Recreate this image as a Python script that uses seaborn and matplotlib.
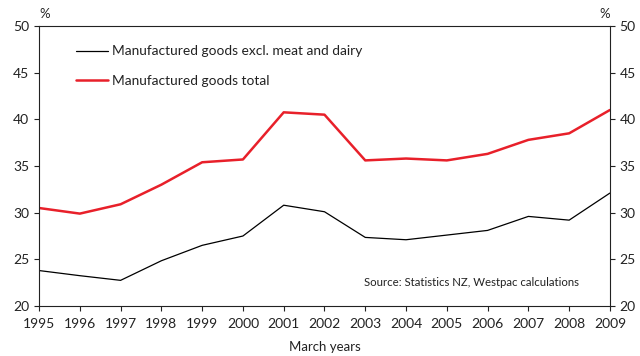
import numpy as np
import pandas as pd
import matplotlib
matplotlib.use('Agg')
import matplotlib.pyplot as plt
import seaborn as sns

# Data
years = [1995, 1996, 1997, 1998, 1999, 2000, 2001, 2002,
         2003, 2004, 2005, 2006, 2007, 2008, 2009]
excl_meat_dairy = [23.8, 23.25, 22.75, 24.85, 26.5, 27.5, 30.8, 30.1,
                   27.35, 27.1, 27.6, 28.1, 29.6, 29.2, 32.1]
goods_total = [30.5, 29.9, 30.9, 33.0, 35.4, 35.7, 40.75, 40.5,
               35.6, 35.8, 35.6, 36.3, 37.8, 38.5, 41.0]
series_names = ['Manufactured goods excl. meat and dairy',
                'Manufactured goods total']
y_ticks = [20, 25, 30, 35, 40, 45, 50]

df = pd.DataFrame({
    'year': years * 2,
    'value': excl_meat_dairy + goods_total,
    'series': [series_names[0]] * len(years) + [series_names[1]] * len(years),
})

sns.set_style('white')
plt.rcParams['font.family'] = ['Lato', 'DejaVu Sans']
text_color = '#222222'

fig = plt.figure(figsize=(6.4, 3.56), dpi=100)
ax = fig.add_axes([0.061, 0.1404, 0.892, 0.7866])

sns.lineplot(data=df, x='year', y='value', hue='series', size='series',
             palette={series_names[0]: 'black', series_names[1]: '#e8202a'},
             sizes={series_names[0]: 0.9, series_names[1]: 1.8},
             ax=ax)

ax.set_xlim(1995, 2009)
ax.set_ylim(20, 50)
ax.set_xticks(years)
ax.set_yticks(y_ticks)
ax.tick_params(axis='both', direction='out', length=3.5, width=0.8,
               labelsize=10, colors=text_color)
ax.tick_params(axis='y', right=True, labelright=True, left=True)
ax.tick_params(axis='x', bottom=True, pad=5)
for s in ax.spines.values():
    s.set_color(text_color)
    s.set_linewidth(0.8)

ax.set_xlabel('March years', fontsize=9.5, color=text_color, labelpad=8)
ax.set_ylabel('')

ax.text(0.0, 1.02, '%', transform=ax.transAxes, fontsize=9.5, color=text_color,
        ha='left', va='bottom')
ax.text(1.0, 1.02, '%', transform=ax.transAxes, fontsize=9.5, color=text_color,
        ha='right', va='bottom')
ax.text(0.945, 0.065, 'Source: Statistics NZ, Westpac calculations',
        transform=ax.transAxes, fontsize=8.2, color=text_color,
        ha='right', va='bottom')

leg = ax.legend(loc='upper left', bbox_to_anchor=(0.043, 0.975), frameon=False,
                fontsize=9.9, handlelength=2.3, handletextpad=0.3,
                labelspacing=1.25)
for t in leg.get_texts():
    t.set_color(text_color)

fig.savefig('out.png', dpi=100)
